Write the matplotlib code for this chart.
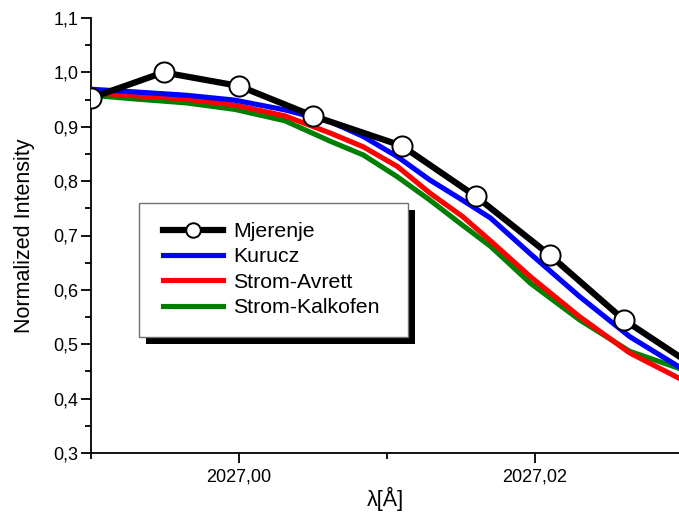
import matplotlib
matplotlib.use("Agg")
import matplotlib.pyplot as plt
import matplotlib.ticker as ticker
from matplotlib.patches import Rectangle
from matplotlib.transforms import IdentityTransform

plt.rcParams['font.family'] = ['Liberation Sans', 'DejaVu Sans']

# ── data ─────────────────────────────────────────────────────────────────────
meas_wl = [2026.9900, 2026.9949, 2027.0000, 2027.0050, 2027.0110,
           2027.0160, 2027.0210, 2027.0260, 2027.0310]
meas_int = [0.953, 1.000, 0.975, 0.920, 0.865, 0.772, 0.664, 0.545, 0.455]

model_wl = [2026.9900, 2026.9930, 2026.9964, 2026.9997, 2027.0031, 2027.0062,
            2027.0084, 2027.0107, 2027.0129, 2027.0151, 2027.0170, 2027.0197,
            2027.0230, 2027.0264, 2027.0297]
kurucz = [0.969, 0.964, 0.958, 0.949, 0.931, 0.909, 0.882, 0.845, 0.802,
          0.765, 0.732, 0.666, 0.588, 0.514, 0.459]
strom_avrett = [0.963, 0.957, 0.951, 0.940, 0.920, 0.888, 0.863, 0.827, 0.778,
                0.735, 0.690, 0.624, 0.551, 0.484, 0.438]
strom_kalkofen = [0.958, 0.951, 0.944, 0.932, 0.911, 0.873, 0.848, 0.808, 0.765,
                  0.719, 0.680, 0.612, 0.545, 0.487, 0.456]

labels = ["Mjerenje", "Kurucz", "Strom-Avrett", "Strom-Kalkofen"]
y_ticks = [0.3, 0.4, 0.5, 0.6, 0.7, 0.8, 0.9, 1.0, 1.1]
x_ticks = [2027.00, 2027.02]

# ── figure ───────────────────────────────────────────────────────────────────
W, H = 679, 518
fig = plt.figure(figsize=(W / 100, H / 100), dpi=100)
ax = fig.add_axes([91 / W, 1 - 453 / H, 1 - 91 / W, (453 - 18) / H])

ax.plot(meas_wl, meas_int, color="black", lw=4.5, marker="o", ms=14.5,
        mfc="white", mec="black", mew=1.4, label=labels[0], zorder=5)
ax.plot(model_wl, kurucz, color="#0000ff", lw=3.7, label=labels[1], zorder=4)
ax.plot(model_wl, strom_kalkofen, color="#008000", lw=3.7, label=labels[3], zorder=2)
ax.plot(model_wl, strom_avrett, color="#ff0000", lw=3.7, label=labels[2], zorder=3)

ax.set_xlim(2026.99, 2026.99 + 588 / 14800)
ax.set_ylim(0.3, 1.1)

ax.spines["top"].set_visible(False)
ax.spines["right"].set_visible(False)
for s in ("left", "bottom"):
    ax.spines[s].set_linewidth(1.3)

ax.set_yticks(y_ticks)
ax.yaxis.set_minor_locator(ticker.MultipleLocator(0.05))
ax.set_yticklabels([f"{v:.1f}".replace(".", ",") for v in y_ticks])
ax.set_xticks(x_ticks)
ax.xaxis.set_minor_locator(ticker.FixedLocator([2026.99, 2027.01, 2027.03]))
ax.set_xticklabels([f"{v:.2f}".replace(".", ",") for v in x_ticks])

ax.tick_params(which="major", direction="out", length=7, width=1.3,
               labelsize=13, pad=2)
ax.tick_params(which="minor", direction="out", length=4, width=1.3)
ax.tick_params(axis="x", which="major", pad=4)

ax.set_ylabel("Normalized Intensity", fontsize=15.5, labelpad=13)
ax.set_xlabel("λ[Å]", fontsize=15.5, labelpad=1)

# legend entries without their own frame; box + shadow drawn separately
handles, labs = ax.get_legend_handles_labels()
order = [labs.index(l) for l in labels]
leg = ax.legend([handles[i] for i in order], [labs[i] for i in order],
                loc="upper left",
                bbox_to_anchor=((163 - 91) / 588, (453 - 222) / 435),
                fontsize=15.3, frameon=False, borderpad=0, markerscale=0.72,
                handlelength=2.8, handletextpad=0.52, labelspacing=0.30,
                borderaxespad=0)
leg.set_zorder(11)

# legend box (pixel layout of the reference) with a black drop shadow
box_x0, box_y0, box_x1, box_y1 = 139, 203, 408, 337
shadow = Rectangle((box_x0 + 7, H - box_y1 - 7), box_x1 - box_x0, box_y1 - box_y0,
                   transform=IdentityTransform(), facecolor="black",
                   edgecolor="none", zorder=9)
frame = Rectangle((box_x0, H - box_y1), box_x1 - box_x0, box_y1 - box_y0,
                  transform=IdentityTransform(), facecolor="white",
                  edgecolor="#707070", lw=1.0, zorder=10)
ax.add_artist(shadow)
ax.add_artist(frame)

fig.savefig("out.png", dpi=100)
